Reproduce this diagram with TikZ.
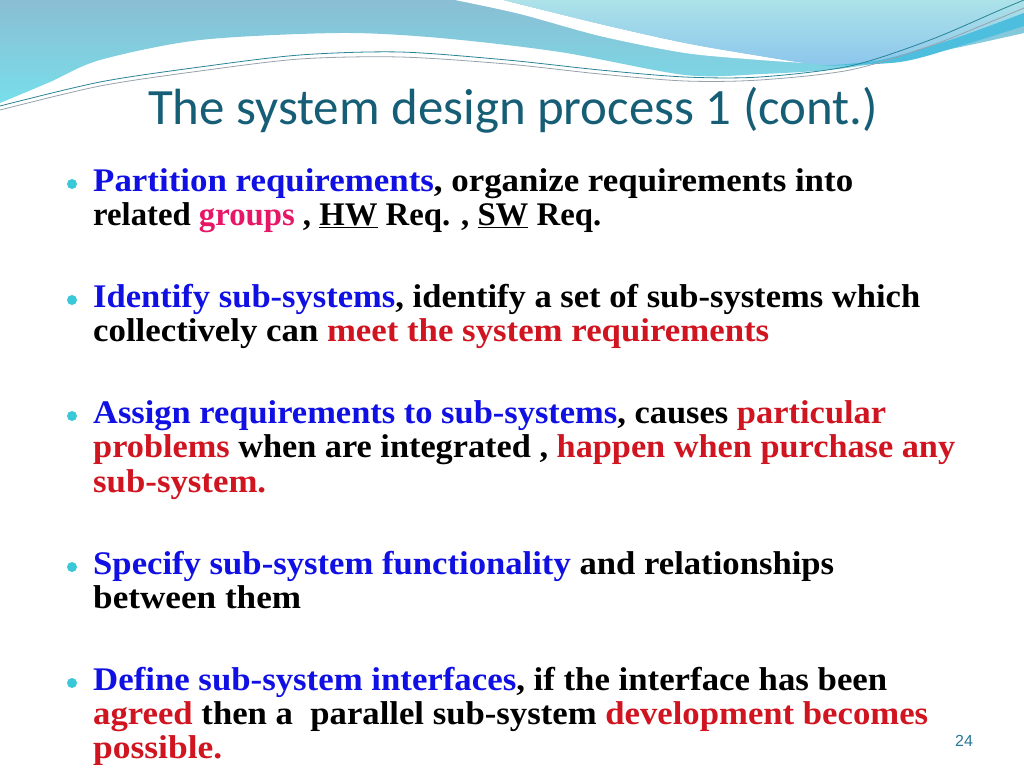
\documentclass[tikz,border=0pt]{standalone}
\usepackage{fontspec}
\usepackage{graphicx}
\setmainfont{Liberation Serif}
\newfontfamily\titlefont{Carlito}
\newfontfamily\numfont{Liberation Sans}
\definecolor{ublue}{RGB}{16,16,228}
\definecolor{ured}{RGB}{208,20,32}
\definecolor{upink}{RGB}{232,22,102}
\definecolor{titlecol}{RGB}{22,94,118}
\definecolor{bulletcol}{RGB}{58,200,216}
\definecolor{topA}{RGB}{138,190,212}
\definecolor{topB}{RGB}{120,222,234}
\definecolor{rightA}{RGB}{172,226,232}
\definecolor{rightB}{RGB}{140,198,236}
\definecolor{stripecol}{RGB}{78,190,222}
\definecolor{lineteal}{RGB}{40,132,150}
\definecolor{linegray}{RGB}{150,162,172}
\definecolor{numcol}{RGB}{40,120,150}
\newcommand\myblue[1]{\textcolor{ublue}{#1}}
\newcommand\myred[1]{\textcolor{ured}{#1}}
\newcommand\mypink[1]{\textcolor{upink}{#1}}
\newcommand\fitto[2]{\resizebox{#1pt}{\height}{#2}}
\tikzset{
  bodyline/.style={anchor=base west, inner sep=0pt, font=\bfseries\fontsize{33}{36}\selectfont},
  dot/.style={circle, fill=bulletcol, inner sep=0pt, minimum size=10pt},
}
\begin{document}
\begin{tikzpicture}[x=1pt,y=-1pt]
\useasboundingbox (0,0) rectangle (1024,768);
\fill[white] (0,0) rectangle (1024,768);
% left/top region
\shade[top color=topA, bottom color=topB]
  (0,0) -- plot[smooth] coordinates {(0,103) (50,82) (100,60) (200,40) (340,33) (440,38) (560,52) (685,75) (762,74) (846,68) (946,50) (1024,33)}
  -- (1024,0) -- cycle;
% white band
\fill[white] (455,0) -- plot[smooth] coordinates {(503,0) (600,24) (685,43) (760,56) (805,63)}
  -- plot[smooth] coordinates {(805,63) (760,60) (685,53) (600,36) (520,14) (455,0)} -- cycle;
% right light-blue region
\shade[top color=rightA, bottom color=rightB]
  (503,0) -- plot[smooth] coordinates {(503,0) (600,24) (685,43) (760,56) (805,63) (846,65) (900,58) (960,38) (1024,13)}
  -- (1024,0) -- cycle;
% darker stripe
\fill[stripecol] (820,66) -- plot[smooth] coordinates {(820,66) (880,60) (950,40) (1024,13)}
  -- (1024,26) -- plot[smooth] coordinates {(1024,26) (960,46) (900,62) (820,66)} -- cycle;
% thin lines
\draw[lineteal, line width=0.8pt] plot[smooth] coordinates {(0,106) (100,82) (200,67) (300,55) (400,52) (507,60) (600,70) (685,77) (760,77) (850,66) (930,40) (1000,10) (1024,0)};
\draw[linegray, line width=0.8pt] plot[smooth] coordinates {(0,110) (100,86) (200,71) (300,59) (400,57) (507,64) (600,74) (685,81) (760,80) (850,70) (930,46) (1000,18) (1024,8)};
% title
\node[anchor=base west, inner sep=0pt, text=titlecol] (title) at (148,124)
  {\resizebox{730pt}{!}{\titlefont\fontsize{48}{50}\selectfont The system design process 1 (cont.)}};
% bullets
\node[dot] (b1) at (72,184) {};
\node[dot] (b2) at (72,300) {};
\node[dot] (b3) at (72,416) {};
\node[dot] (b4) at (72,567) {};
\node[dot] (b5) at (72,683) {};
% body lines
\node[bodyline] (l1) at (93,191) {\fitto{760}{\myblue{Partition requirements}, organize requirements into}};
\node[bodyline] (l2) at (93,225) {\fitto{508}{related \mypink{groups} , \underline{HW} Req. , \underline{SW} Req.}};
\node[bodyline] (l3) at (93,307) {\fitto{827}{\myblue{Identify sub-systems}, identify a set of sub-systems which}};
\node[bodyline] (l4) at (93,341) {\fitto{676}{collectively can \myred{meet the system requirements}}};
\node[bodyline] (l5) at (93,423) {\fitto{793}{\myblue{Assign requirements to sub-systems}, causes \myred{particular}}};
\node[bodyline] (l6) at (93,457) {\fitto{862}{\myred{problems} when are integrated , \myred{happen when purchase any}}};
\node[bodyline] (l7) at (93,492) {\fitto{173}{\myred{sub-system.}}};
\node[bodyline] (l8) at (93,574) {\fitto{741}{\myblue{Specify sub-system functionality} and relationships}};
\node[bodyline] (l9) at (93,608) {\fitto{208}{between them}};
\node[bodyline] (l10) at (93,690) {\fitto{794}{\myblue{Define sub-system interfaces}, if the interface has been}};
\node[bodyline] (l11) at (93,724) {\fitto{835}{\myred{agreed} then a\ \ parallel sub-system \myred{development becomes}}};
\node[bodyline] (l12) at (93,758) {\fitto{129}{\myred{possible.}}};
% page number
\node[inner sep=0pt, text=numcol, font=\numfont\fontsize{16}{18}\selectfont] (pg) at (964,741) {24};
\end{tikzpicture}
\end{document}
